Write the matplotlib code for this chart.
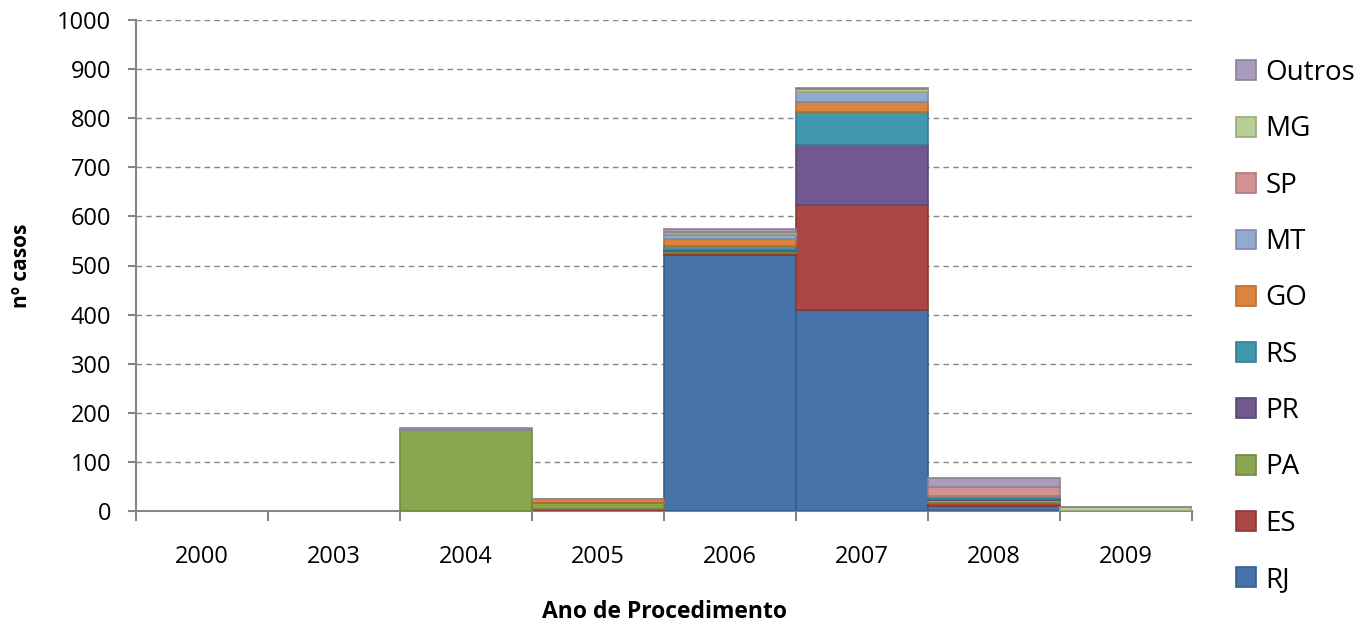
import matplotlib
matplotlib.use("Agg")
import matplotlib.pyplot as plt
import numpy as np

plt.rcParams['font.family'] = ['Open Sans', 'DejaVu Sans']

years = ["2000", "2003", "2004", "2005", "2006", "2007", "2008", "2009"]
states = ["RJ", "ES", "PA", "PR", "RS", "GO", "MT", "SP", "MG", "Outros"]

RJ     = [0, 0, 0,   0, 522, 409, 10, 0]
ES     = [0, 0, 0,   5,   4, 214,  6, 0]
PA     = [0, 1, 164, 12,  3,   0,  7, 0]
PR     = [0, 0, 0,   0,   2, 122,  2, 0]
RS     = [0, 0, 0,   0,   8,  68,  5, 0]
GO     = [0, 0, 0,   8,  15,  21,  0, 0]
MT     = [0, 0, 0,   0,   8,  19,  1, 0]
SP     = [0, 0, 0,   0,   2,   1, 17, 0]
MG     = [0, 0, 0,   0,   4,   5,  1, 8]
Outros = [0, 0, 5,   0,   6,   3, 19, 0]

series = [RJ, ES, PA, PR, RS, GO, MT, SP, MG, Outros]

fill_colors = ["#4572A7", "#AA4643", "#89A54E", "#71588F", "#4198AF",
               "#DB843D", "#93A9CF", "#D19392", "#B9CD96", "#A99BBD"]
edge_colors = ["#385D8A", "#8C3836", "#71893F", "#5C4776", "#357D91",
               "#B66D31", "#7A8CAC", "#AE7A79", "#99AA7C", "#8C8193"]

fig = plt.figure(figsize=(13.61, 6.23), dpi=100)
ax = fig.add_axes([136/1361, 1 - 511/623, (1192 - 136)/1361, (511 - 20)/623])

x = np.arange(len(years))
bottom = np.zeros(len(years))
handles = []
for vals, name, fc, ec in zip(series, states, fill_colors, edge_colors):
    v = np.array(vals, dtype=float)
    b = ax.bar(x, v, width=1.0, bottom=bottom, color=fc, edgecolor=ec,
               linewidth=1.2, label=name, zorder=3)
    handles.append(b)
    bottom += v

grid_c = "#868686"
ax.set_ylim(0, 1000)
ax.set_xlim(-0.5, len(years) - 0.5)
ax.set_yticks(np.arange(0, 1001, 100))
ax.yaxis.grid(True, linestyle=(0, (4, 3)), color=grid_c, linewidth=1.0, zorder=0)
ax.set_axisbelow(True)

ax.spines['top'].set_visible(False)
ax.spines['right'].set_visible(False)
ax.spines['left'].set_color(grid_c)
ax.spines['bottom'].set_color(grid_c)
ax.spines['left'].set_linewidth(1.5)
ax.spines['bottom'].set_linewidth(1.5)

ax.set_xticks(x)
ax.set_xticklabels(years)
ax.set_xticks(np.arange(-0.5, len(years)), minor=True)
ax.tick_params(axis='x', which='major', length=0, pad=24.5, labelsize=17)
ax.tick_params(axis='x', which='minor', length=7, width=1.5, color=grid_c)
ax.tick_params(axis='y', which='major', length=6, width=1.5, color=grid_c,
               labelsize=17, pad=12)

ax.set_xlabel("Ano de Procedimento", fontsize=16.5, fontweight='bold', labelpad=22)
ax.set_ylabel("nº casos", fontsize=15, fontweight='bold', labelpad=18)

leg = fig.legend(handles[::-1], states[::-1], loc='upper left',
                 bbox_to_anchor=(1225/1361, 1 - 48/623), frameon=False,
                 fontsize=20, labelspacing=1.02, handlelength=0.72,
                 handleheight=0.72, handletextpad=0.33, borderaxespad=0)

fig.savefig("out.png", dpi=100)
